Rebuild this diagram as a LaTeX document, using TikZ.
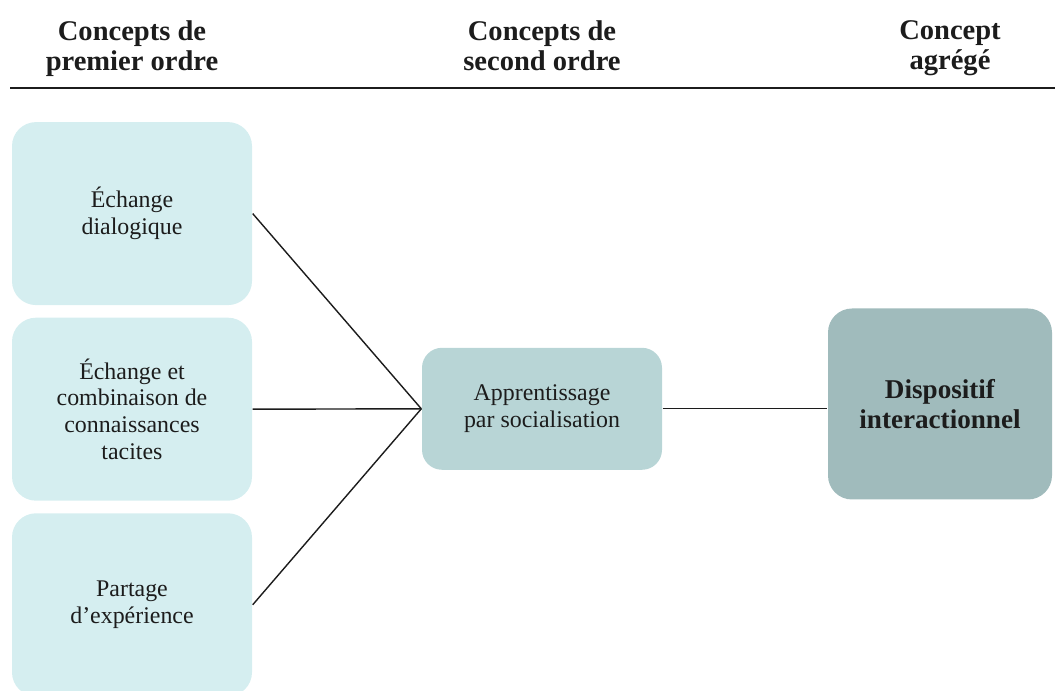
\documentclass[tikz,border=0pt]{standalone}
\usepackage{fontspec}
\setmainfont{Liberation Serif}
\usepackage{color}
\usepackage{tikz}
\usetikzlibrary{positioning}

\definecolor{firstcol}{HTML}{D5EEF0}
\definecolor{secondcol}{HTML}{B8D5D6}
\definecolor{aggcol}{HTML}{A0BBBC}
\definecolor{inkcol}{HTML}{1C1C1C}

\begin{document}
\begin{tikzpicture}[-,line width=1pt,auto,node distance=4.89cm,
                    first node/.style={rectangle,rounded corners=0.6cm,fill=firstcol,
                      minimum width=6cm,minimum height=4.575cm,align=center,text=inkcol,
                      font=\fontsize{17}{19}\selectfont},
                    second node/.style={rectangle,rounded corners=0.5cm,fill=secondcol,
                      minimum width=6cm,minimum height=3.05cm,align=center,text=inkcol,
                      font=\fontsize{17}{19.5}\selectfont},
                    agg node/.style={rectangle,rounded corners=0.6cm,fill=aggcol,
                      minimum width=5.6cm,minimum height=4.775cm,align=center,text=inkcol,
                      font=\fontsize{19.3}{21}\selectfont\bfseries},
                    head node/.style={align=center,text=inkcol,anchor=north,inner sep=0pt,
                      font=\fontsize{20.3}{21.5}\selectfont\bfseries}]

  \useasboundingbox (0,0) rectangle (26.375,-17.275);

  % column headings
  \node[head node] (h1) at (3.3,-0.5) {Concepts de\\premier ordre};
  \node[head node] (h2) at (13.55,-0.5) {Concepts de\\second ordre};
  \node[head node] (h3) at (23.75,-0.5) {Concept\\agrégé};
  \coordinate (rl) at (0.25,-2.2);
  \coordinate (rr) at (26.375,-2.2);
  \draw[line width=1.4pt,inkcol] (rl) -- (rr);

  \node[first node] (1) at (3.3,-5.34) {Échange\\dialogique};
  \node[first node] (2) [below of=1] {Échange et\\combinaison de\\connaissances\\tacites};
  \node[first node] (3) [below of=2] {Partage\\d’expérience};
  \node[second node] (4) [right of=2,node distance=10.25cm,yshift=0.01cm] {Apprentissage\\par socialisation};
  \node[agg node] (5) [right of=4,node distance=9.95cm,yshift=0.12cm] {Dispositif\\interactionnel};

  \path[draw=inkcol]
    (1.east) edge (4.west)
    (2.east) edge (4.west)
    (3.east) edge (4.west)
    (4.east) edge (4.east -| 5.west);
\end{tikzpicture}
\end{document}
